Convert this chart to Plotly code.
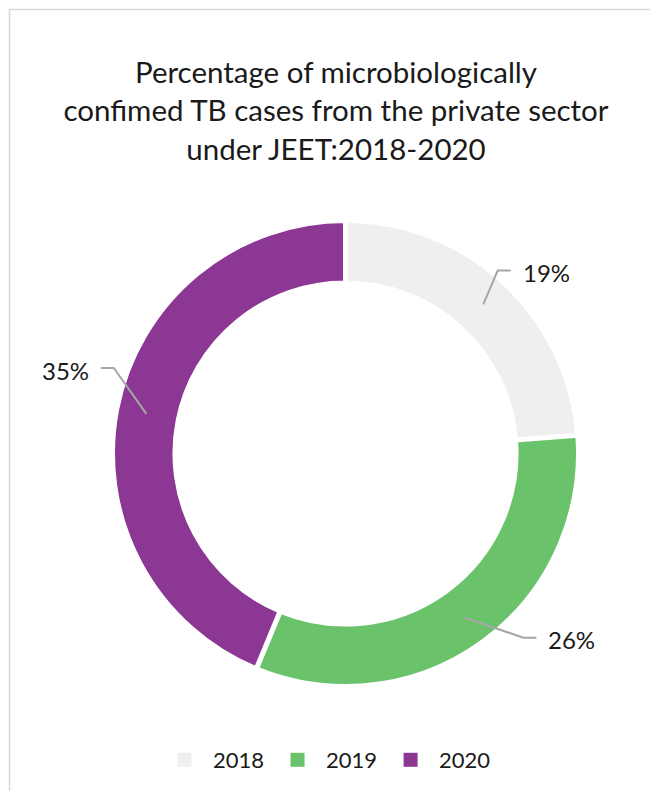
import math
import plotly.graph_objects as go

# ---- data ----
years = ["2018", "2019", "2020"]
percent = [19, 26, 35]
colors = ["#f1efee", "#6ac26b", "#8b3793"]

# page has an 8px body margin; figure sized to fit the window
OFF = 8
W, H = 658 - OFF, 791 - OFF
FONT = "Lato, 'Open Sans', sans-serif"

# donut geometry (reference-page pixels)
cx, cy, R = 345.5, 453.5, 233
hole = 0.732

# label leader-line layout (style): kink radius (px) and angular nudge (deg)
kink_r = [238, 256, 247]
kink_shift = [-3, -8, 9]
start_r = 203


def px(x, y):
    return (x - OFF) / W, 1 - (y - OFF) / H


d0 = px(cx - R, cy + R)
d1 = px(cx + R, cy - R)
fig = go.Figure(go.Pie(
    labels=years, values=percent, sort=False, direction="clockwise", rotation=0,
    hole=hole, marker=dict(colors=colors, line=dict(color="white", width=5)),
    textinfo="none", hoverinfo="label+value", showlegend=False,
    domain=dict(x=[d0[0], d1[0]], y=[d0[1], d1[1]]),
))

# legend entries as square swatches
for yr, c in zip(years, colors):
    fig.add_trace(go.Scatter(x=[None], y=[None], mode="markers", name=yr,
                             marker=dict(symbol="square", size=14, color=c),
                             hoverinfo="skip"))

total = sum(percent)
cum = 0
shapes = []
annotations = []
for i, v in enumerate(percent):
    mid = (cum + v / 2) / total
    cum += v
    th = 2 * math.pi * mid
    sx, sy = cx + start_r * math.sin(th), cy - start_r * math.cos(th)
    th2 = th + math.radians(kink_shift[i])
    kx, ky = cx + kink_r[i] * math.sin(th2), cy - kink_r[i] * math.cos(th2)
    side = 1 if math.sin(th2) >= 0 else -1
    ex = kx + side * 13
    p0, p1, p2 = px(sx, sy), px(kx, ky), px(ex, ky)
    shapes.append(dict(type="path", xref="paper", yref="paper",
                       path=f"M {p0[0]},{p0[1]} L {p1[0]},{p1[1]} L {p2[0]},{p2[1]}",
                       line=dict(color="#a6a6a6", width=2)))
    tx, ty = px(ex + side * 10, ky + 2)
    annotations.append(dict(x=tx, y=ty, xref="paper", yref="paper", text=f"{v}%",
                            showarrow=False, xanchor="left" if side > 0 else "right",
                            yanchor="middle", font=dict(size=24, color="#1a1a1a", family=FONT)))

# chart border (left/top visible)
b = px(9.5, 9.5)
shapes.append(dict(type="rect", xref="paper", yref="paper",
                   x0=b[0], x1=1.05, y0=-0.05, y1=b[1],
                   line=dict(color="#d9d9d9", width=1.5), layer="below"))

tpos = px(336, 83)
lpos = px(326, 760)
fig.update_layout(
    width=W, height=H, margin=dict(l=0, r=0, t=0, b=0),
    paper_bgcolor="white", plot_bgcolor="white",
    xaxis=dict(visible=False), yaxis=dict(visible=False),
    title=dict(text="Percentage of microbiologically<br>confimed TB cases from the private sector<br>under JEET:2018-2020",
               x=tpos[0], xanchor="center", y=tpos[1], yanchor="middle",
               font=dict(size=29.5, color="#1a1a1a", family=FONT)),
    showlegend=True,
    legend=dict(orientation="h", x=lpos[0], xanchor="center", y=lpos[1], yanchor="middle",
                font=dict(size=22, color="#1a1a1a", family=FONT), itemwidth=47),
    shapes=shapes, annotations=annotations,
)

fig.write_html("out.html")
